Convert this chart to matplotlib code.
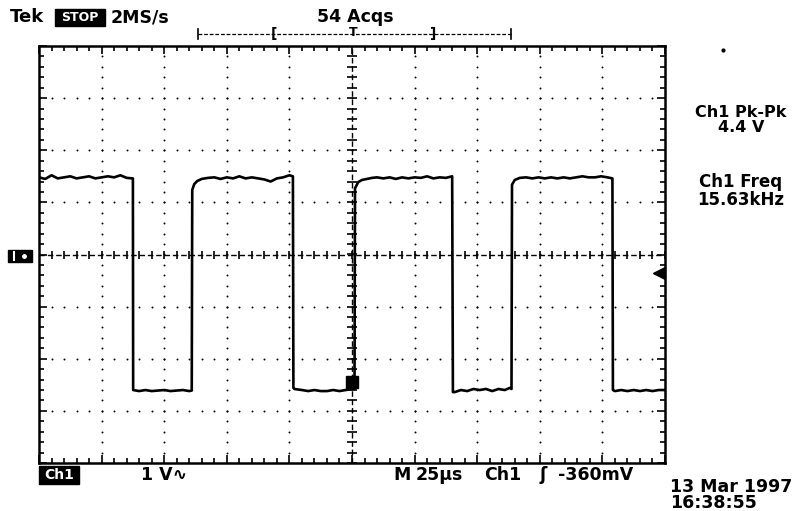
import matplotlib
matplotlib.use("Agg")
import matplotlib.pyplot as plt
from matplotlib.patches import Rectangle
import numpy as np

# scope settings
time_per_div = 25.0   # us
volt_per_div = 1.0    # V
n_hdiv = 10
n_vdiv = 8

# channel 1 trace (time in us, volts)
trace_t = [0, 2.5, 5, 7.5, 10, 12.5, 15, 17.5, 20, 22.5, 25, 27.5, 30, 32.5, 35, 37.5,
           37.6, 40, 42.5, 45, 47.5, 50, 52.5, 55, 57.5, 60, 61,
           61.2, 62, 63.2, 65, 67.5, 70, 72.5, 75, 77.5, 80, 82.5, 85, 87.5, 90, 92.5, 95, 97.5, 100, 101.4,
           101.6, 102, 105, 107.5, 110, 112.5, 115, 117.5, 120, 122.5, 125, 126,
           126.2, 127.5, 129, 131, 133, 135, 137.5, 140, 142.5, 145, 147.5, 150, 152.5, 155, 157.5, 160, 162.5, 165,
           165.3, 166, 168.5, 171, 173.5, 176, 178.5, 181, 183.5, 186, 188, 188.7,
           188.9, 190, 192, 194.5, 197, 199.5, 202, 204.5, 207, 209.5, 212, 214.5, 217, 219.5, 222, 224.5, 227, 229,
           229.2, 230, 232.5, 235, 237.5, 240, 242.5, 245, 247.5, 250]
trace_v = [1.48, 1.45, 1.52, 1.46, 1.48, 1.50, 1.46, 1.48, 1.50, 1.46, 1.48, 1.50, 1.48, 1.52, 1.47, 1.46,
           -2.60, -2.62, -2.60, -2.62, -2.61, -2.60, -2.62, -2.61, -2.60, -2.62, -2.61,
           1.24, 1.35, 1.41, 1.45, 1.47, 1.48, 1.45, 1.48, 1.46, 1.50, 1.46, 1.48, 1.46, 1.44, 1.40, 1.46, 1.48, 1.52, 1.50,
           -2.56, -2.58, -2.60, -2.62, -2.60, -2.62, -2.62, -2.60, -2.62, -2.60, -2.58, -2.58,
           1.27, 1.39, 1.43, 1.45, 1.47, 1.48, 1.46, 1.48, 1.45, 1.48, 1.46, 1.48, 1.47, 1.50, 1.46, 1.48, 1.47, 1.50,
           -2.64, -2.64, -2.60, -2.62, -2.58, -2.60, -2.58, -2.62, -2.58, -2.60, -2.56, -2.58,
           1.34, 1.43, 1.47, 1.48, 1.46, 1.48, 1.46, 1.48, 1.46, 1.48, 1.46, 1.48, 1.50, 1.48, 1.48, 1.50, 1.48, 1.46,
           -2.60, -2.62, -2.60, -2.62, -2.60, -2.62, -2.60, -2.62, -2.60, -2.60]

trigger_level = -0.36   # V
trigger_time = 125.0    # us

top_left = ["Tek", "STOP", "2MS/s"]
acq_text = "54 Acqs"
meas_labels = ["Ch1 Pk-Pk", "4.4 V", "Ch1 Freq", "15.63kHz"]
bottom_labels = ["Ch1", "1 V\u223f", "M", "25\u00b5s", "Ch1", "\u0283", "-360mV"]
date_text = ["13 Mar 1997", "16:38:55"]

W, H = 811, 511
fig = plt.figure(figsize=(W / 100, H / 100), dpi=100)
fig.patch.set_facecolor("white")

# screen area in pixels
x0, x1, y0, y1 = 39, 665, 46, 463
ax = fig.add_axes([x0 / W, 1 - y1 / H, (x1 - x0) / W, (y1 - y0) / H])
tmax = n_hdiv * time_per_div
vmax = n_vdiv / 2 * volt_per_div
ax.set_xlim(0, tmax)
ax.set_ylim(-vmax, vmax)
for s in ax.spines.values():
    s.set_linewidth(1.8)
ax.set_xticks(np.arange(0, tmax + 1, time_per_div))
ax.set_xticks(np.arange(0, tmax + 1, time_per_div / 5), minor=True)
ax.set_yticks(np.arange(-vmax, vmax + 0.01, volt_per_div))
ax.set_yticks(np.arange(-vmax, vmax + 0.01, volt_per_div / 5), minor=True)
ax.tick_params(which="both", direction="in", top=True, right=True,
               labelbottom=False, labelleft=False, width=1.2, color="black")
ax.tick_params(which="major", length=6)
ax.tick_params(which="minor", length=3.5)

# dotted graticule
sub_t = np.arange(0, tmax + 0.1, time_per_div / 5)
sub_v = np.arange(-vmax, vmax + 0.01, volt_per_div / 5)
for k in range(1, n_hdiv):
    if k == n_hdiv // 2:
        continue
    ax.plot(np.full(len(sub_v), k * time_per_div), sub_v, ls="none", marker="o",
            ms=1.4, color="black", mew=0)
for k in range(-n_vdiv // 2 + 1, n_vdiv // 2):
    if k == 0:
        continue
    ax.plot(sub_t, np.full(len(sub_t), k * volt_per_div), ls="none", marker="o",
            ms=1.4, color="black", mew=0)

# centre crosshair
ax.axhline(0, color="black", lw=1.0, ls=(0, (4, 2)))
ax.axvline(tmax / 2, color="black", lw=1.0, ls=(0, (4, 2)))
ax.plot(sub_t, np.zeros(len(sub_t)), ls="none", marker="|", ms=6, mew=1.2, color="black")
ax.plot(np.full(len(sub_v), tmax / 2), sub_v, ls="none", marker="_", ms=7, mew=1.2, color="black")

# trace
ax.plot(trace_t, trace_v, color="black", lw=1.9, solid_joinstyle="round")

# trigger markers
ax.plot([trigger_time], [-2.45], marker="s", ms=9, color="black")
ax.plot([tmax - 2.5], [trigger_level], marker="<", ms=8, color="black", clip_on=False)

# overlay in pixel coordinates for the readouts
ov = fig.add_axes([0, 0, 1, 1], facecolor="none")
ov.set_xlim(0, W)
ov.set_ylim(H, 0)
ov.axis("off")

bold = dict(fontweight="bold", color="black", family="DejaVu Sans")
ov.text(10, 17, top_left[0], fontsize=13, va="center", ha="left", **bold)
ov.add_patch(Rectangle((55, 9), 50, 17, color="black"))
ov.text(80, 17.5, top_left[1], fontsize=9, va="center", ha="center", fontweight="bold", color="white")
ov.text(111, 17, top_left[2], fontsize=12.5, va="center", ha="left", **bold)
ov.text(355, 17, acq_text, fontsize=12.5, va="center", ha="center", **bold)

# record bracket
ov.plot([198, 511], [34, 34], color="black", lw=0.9, ls=(0, (3, 1.5)))
ov.plot([198, 198], [29, 39], color="black", lw=1.2)
ov.plot([511, 511], [29, 39], color="black", lw=1.2)
ov.text(274, 34, "[", fontsize=10, va="center", ha="center", **bold)
ov.text(433, 34, "]", fontsize=10, va="center", ha="center", **bold)
ov.text(353, 33, "T", fontsize=9, va="center", ha="center", **bold)
ov.plot([723], [50], marker="o", ms=2, color="black")

# ground marker
ov.add_patch(Rectangle((8, 250), 24, 12, color="black"))
ov.plot([14, 14], [252, 260], color="white", lw=1.5)
ov.plot([24], [256], marker="o", ms=2.5, color="white")

# measurements
ov.text(741, 120, meas_labels[0] + "\n" + meas_labels[1], fontsize=11.5, va="center",
        ha="center", multialignment="center", linespacing=0.95, **bold)
ov.text(741, 191, meas_labels[2] + "\n" + meas_labels[3], fontsize=12, va="center",
        ha="center", multialignment="center", linespacing=0.95, **bold)

# bottom status line
ov.add_patch(Rectangle((39, 466), 40, 18, color="black"))
ov.text(59, 475, bottom_labels[0], fontsize=10, va="center", ha="center", fontweight="bold", color="white")
ov.text(141, 475, bottom_labels[1], fontsize=12.5, va="center", ha="left", **bold)
ov.text(393, 475, bottom_labels[2], fontsize=12.5, va="center", ha="left", **bold)
ov.text(416, 475, bottom_labels[3], fontsize=12.5, va="center", ha="left", **bold)
ov.text(484, 475, bottom_labels[4], fontsize=12.5, va="center", ha="left", **bold)
ov.text(540, 475, bottom_labels[5], fontsize=12.5, va="center", ha="left", **bold)
ov.text(558, 475, bottom_labels[6], fontsize=12.5, va="center", ha="left", **bold)
ov.text(670, 495, date_text[0] + "\n" + date_text[1], fontsize=12.5, va="center",
        ha="left", linespacing=0.9, **bold)

fig.savefig("out.png", dpi=100, facecolor="white")
